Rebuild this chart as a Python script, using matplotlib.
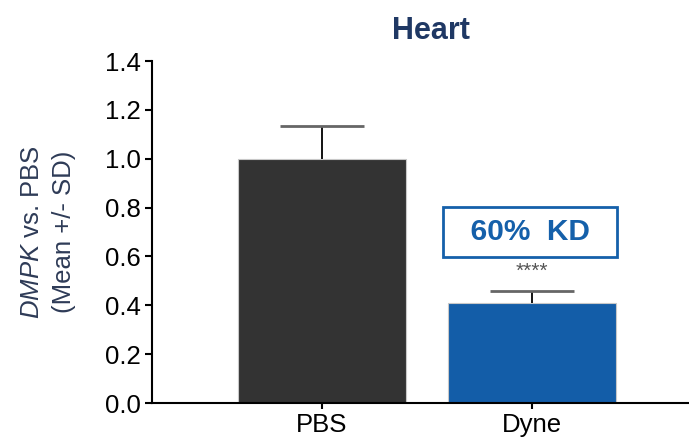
import matplotlib.pyplot as plt

groups = ['PBS', 'Dyne']
means = [1.0, 0.41]
sds = [0.135, 0.05]
bar_colors = ['#333333', '#135DA8']

plt.rcParams['font.family'] = ['Liberation Sans', 'DejaVu Sans']
plt.rcParams['mathtext.fontset'] = 'custom'
plt.rcParams['mathtext.it'] = 'Liberation Sans:italic'
plt.rcParams['mathtext.rm'] = 'Liberation Sans'

fig = plt.figure(figsize=(6.89, 4.38), dpi=100)
ax = fig.add_axes([0.2206, 0.0799, 0.7794, 0.7808])

x = list(range(len(groups)))
ax.bar(x, means, width=0.8, color=bar_colors, edgecolor='#c8c8c8', linewidth=0.8, zorder=2)

# upper SD whiskers with caps
tops = [m + s for m, s in zip(means, sds)]
ax.vlines(x, means, tops, colors='black', linewidth=1.3, zorder=3)
ax.hlines(tops, [i - 0.2 for i in x], [i + 0.2 for i in x], colors='#666666', linewidth=2, zorder=3)

ax.set_xlim(-0.81, 1.748)
ax.set_ylim(0, 1.4)
ax.set_yticks([0.0, 0.2, 0.4, 0.6, 0.8, 1.0, 1.2, 1.4])
ax.set_yticklabels(['%.1f' % v for v in ax.get_yticks()])
ax.set_xticks(x)
ax.set_xticklabels(groups)
ax.tick_params(axis='both', labelsize=18.5, width=1.5, length=5, color='black', pad=3)
ax.tick_params(axis='x', length=4)

for side in ['top', 'right']:
    ax.spines[side].set_visible(False)
for side in ['left', 'bottom']:
    ax.spines[side].set_linewidth(1.5)

ax.set_ylabel('$\\mathit{DMPK}$ vs. PBS\n(Mean +/- SD)', fontsize=18.5,
              color='#2E3B57', labelpad=21, linespacing=1.4)
ax.set_title('Heart', fontsize=22, fontweight='bold', color='#1F3864', pad=16, x=0.52)

# knockdown annotation over the Dyne bar
ax.text(0.99, 0.70, '  60%  KD  ', ha='center', va='center', fontsize=21.5,
        fontweight='bold', color='#1560AA',
        bbox=dict(boxstyle='square,pad=0.37', facecolor='white',
                  edgecolor='#1560AA', linewidth=2))
ax.text(1, 0.54, '****', ha='center', va='center', fontsize=15, color='#555555')

fig.savefig('out.png', dpi=100)
